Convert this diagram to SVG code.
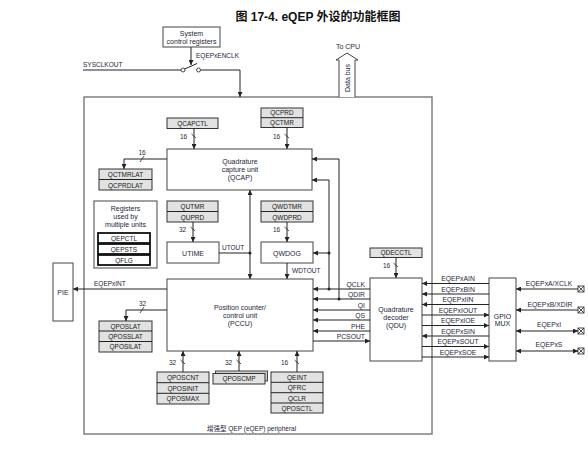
<svg xmlns="http://www.w3.org/2000/svg" width="588" height="453" viewBox="0 0 588 453">
  <style>
    text { font-family: "Liberation Sans", "Noto Sans CJK SC", sans-serif; fill: #1e1e3c; }
    .t { font-size: 7px; text-anchor: middle; }
    .r { font-size: 6.5px; text-anchor: middle; fill: #1a1a1a; }
    .s { font-size: 6.5px; }
    .e { font-size: 6.8px; text-anchor: end; }
    .m { font-size: 6.8px; text-anchor: middle; }
    .title { font-size: 12px; font-weight: bold; text-anchor: middle; fill: #111; }
    .box { fill: #fff; stroke: #444; stroke-width: 1; }
    .reg { fill: #e2e2e2; stroke: #333; stroke-width: 1; }
    .regb { fill: #cfcfcf; stroke: #444; stroke-width: 1; }
    .thick { fill: #fff; stroke: #111; stroke-width: 1.8; }
    .outer { fill: none; stroke: #808080; stroke-width: 1.5; }
    .w { fill: none; stroke: #222; stroke-width: 1; }
    .a { fill: none; stroke: #222; stroke-width: 1; marker-end: url(#ah); }
    .aa { fill: none; stroke: #222; stroke-width: 1; marker-start: url(#ah); marker-end: url(#ah); }
    .tick { stroke: #222; stroke-width: 0.8; }
    .dot { fill: #222; }
  </style>
  <defs>
    <marker id="ah" viewBox="0 0 6 6" refX="6" refY="3" markerWidth="5.5" markerHeight="5" markerUnits="userSpaceOnUse" orient="auto-start-reverse">
      <path d="M0,0 L6,3 L0,6 z" fill="#222"/>
    </marker>
  </defs>

  <text class="title" x="318" y="21">图 17-4. eQEP 外设的功能框图</text>

  <!-- enclosing peripheral frame -->
  <rect class="outer" x="84" y="97" width="348" height="337"/>
  <text class="s" x="207" y="431">增强型 QEP (eQEP) peripheral</text>

  <!-- system control and clock enable -->
  <g id="sysctrl">
    <rect class="box" x="163" y="27" width="57" height="20"/>
    <text class="t" x="191.5" y="35.5">System</text>
    <text class="t" x="191.5" y="44">control registers</text>
  </g>
  <g id="clkswitch">
    <text class="s" x="83" y="67">SYSCLKOUT</text>
    <text class="s" x="196" y="58">EQEPxENCLK</text>
    <circle cx="183" cy="70" r="2" fill="#fff" stroke="#222" stroke-width="0.8"/>
    <circle cx="198.5" cy="70" r="2" fill="#fff" stroke="#222" stroke-width="0.8"/>
  </g>

  <!-- data bus to CPU -->
  <g id="databus">
    <path d="M339,97 V60 H336 L347,53 L358,60 H355 V97" fill="#fff" stroke="#444" stroke-width="1"/>
    <text class="t" x="348" y="49">To CPU</text>
    <text class="t" transform="translate(350,78) rotate(-90)">Data bus</text>
  </g>

  <!-- capture unit -->
  <g id="qcapctl">
    <rect class="reg" x="167" y="118" width="51" height="10.5"/>
    <text class="r" x="192.5" y="125.8">QCAPCTL</text>
  </g>
  <g id="qcprd">
    <rect class="reg" x="261" y="108" width="42" height="19.5"/>
    <line class="w" x1="261" y1="117.7" x2="303" y2="117.7"/>
    <text class="r" x="282" y="115.3">QCPRD</text>
    <text class="r" x="282" y="125">QCTMR</text>
  </g>
  <g id="qcap">
    <rect class="box" x="167" y="149" width="145" height="41"/>
    <text class="t" x="240" y="164">Quadrature</text>
    <text class="t" x="240" y="172">capture unit</text>
    <text class="t" x="240" y="180">(QCAP)</text>
  </g>
  <g id="qctmrlat">
    <rect class="reg" x="99" y="169" width="53" height="21"/>
    <line class="w" x1="99" y1="179.5" x2="152" y2="179.5"/>
    <text class="r" x="125.5" y="177">QCTMRLAT</text>
    <text class="r" x="125.5" y="187.5">QCPRDLAT</text>
  </g>

  <!-- shared registers -->
  <g id="shared">
    <rect class="box" x="94" y="201" width="63" height="67" stroke="#555"/>
    <text class="t" x="125.5" y="211">Registers</text>
    <text class="t" x="125.5" y="219">used by</text>
    <text class="t" x="125.5" y="227">multiple units</text>
    <rect class="thick" x="98" y="233" width="52" height="10"/>
    <text class="r" x="124" y="240.5">QEPCTL</text>
    <rect class="thick" x="98" y="244" width="52" height="10"/>
    <text class="r" x="124" y="251.5">QEPSTS</text>
    <rect class="thick" x="98" y="255" width="52" height="10"/>
    <text class="r" x="124" y="262.5">QFLG</text>
  </g>

  <!-- unit timer -->
  <g id="qutmr">
    <rect class="reg" x="167" y="201" width="51" height="21"/>
    <line class="w" x1="167" y1="211.5" x2="218" y2="211.5"/>
    <text class="r" x="192.5" y="209">QUTMR</text>
    <text class="r" x="192.5" y="219.5">QUPRD</text>
  </g>
  <g id="utime">
    <rect class="box" x="167" y="242" width="52" height="21"/>
    <text class="t" x="193" y="255.5">UTIME</text>
  </g>

  <!-- watchdog -->
  <g id="qwdtmr">
    <rect class="reg" x="261" y="201" width="52" height="21"/>
    <line class="w" x1="261" y1="211.5" x2="313" y2="211.5"/>
    <text class="r" x="287" y="209">QWDTMR</text>
    <text class="r" x="287" y="219.5">QWDPRD</text>
  </g>
  <g id="qwdog">
    <rect class="box" x="261" y="242" width="52" height="21"/>
    <text class="t" x="287" y="255.5">QWDOG</text>
  </g>

  <!-- position counter -->
  <g id="pccu">
    <rect class="box" x="167" y="279" width="146" height="72"/>
    <text class="t" x="240" y="310">Position counter/</text>
    <text class="t" x="240" y="318">control unit</text>
    <text class="t" x="240" y="326">(PCCU)</text>
  </g>
  <g id="qposlat">
    <rect class="reg" x="99" y="321" width="53" height="31"/>
    <line class="w" x1="99" y1="331" x2="152" y2="331"/>
    <line class="w" x1="99" y1="341.5" x2="152" y2="341.5"/>
    <text class="r" x="125.5" y="328.5">QPOSLAT</text>
    <text class="r" x="125.5" y="338.8">QPOSSLAT</text>
    <text class="r" x="125.5" y="349.3">QPOSILAT</text>
  </g>
  <g id="qposcnt">
    <rect class="reg" x="157" y="372" width="52" height="32"/>
    <line class="w" x1="157" y1="382.7" x2="209" y2="382.7"/>
    <line class="w" x1="157" y1="393.3" x2="209" y2="393.3"/>
    <text class="r" x="183" y="380">QPOSCNT</text>
    <text class="r" x="183" y="390.6">QPOSINIT</text>
    <text class="r" x="183" y="401.2">QPOSMAX</text>
  </g>
  <g id="qposcmp">
    <rect class="regb" x="215.5" y="371" width="52" height="10"/>
    <rect class="reg" x="213" y="373.5" width="52" height="10.5"/>
    <text class="r" x="239" y="381.3">QPOSCMP</text>
  </g>
  <g id="qeint">
    <rect class="reg" x="271" y="372" width="52" height="41"/>
    <line class="w" x1="271" y1="382.3" x2="323" y2="382.3"/>
    <line class="w" x1="271" y1="392.7" x2="323" y2="392.7"/>
    <line class="w" x1="271" y1="403" x2="323" y2="403"/>
    <text class="r" x="297" y="379.8">QEINT</text>
    <text class="r" x="297" y="390.1">QFRC</text>
    <text class="r" x="297" y="400.5">QCLR</text>
    <text class="r" x="297" y="410.8">QPOSCTL</text>
  </g>

  <!-- decoder -->
  <g id="qdecctl">
    <rect class="reg" x="370" y="248" width="52" height="9.5"/>
    <text class="r" x="396" y="255">QDECCTL</text>
  </g>
  <g id="qdu">
    <rect class="box" x="370" y="278" width="52" height="83"/>
    <text class="t" x="396" y="312">Quadrature</text>
    <text class="t" x="396" y="320">decoder</text>
    <text class="t" x="396" y="328">(QDU)</text>
  </g>
  <g id="gpiomux">
    <rect class="box" x="489" y="278" width="27" height="83"/>
    <text class="t" x="502.5" y="318.5">GPIO</text>
    <text class="t" x="502.5" y="326">MUX</text>
  </g>
  <g id="pie">
    <rect class="box" x="53" y="263" width="20" height="58"/>
    <text class="t" x="63" y="294.5">PIE</text>
  </g>

  <!-- external pins -->
  <g id="pins" fill="#fff" stroke="#222" stroke-width="0.8">
    <rect x="578" y="286" width="6" height="6"/>
    <path d="M578,286 L584,292 M584,286 L578,292"/>
    <rect x="578" y="307" width="6" height="6"/>
    <path d="M578,307 L584,313 M584,307 L578,313"/>
    <rect x="578" y="328" width="6" height="6"/>
    <path d="M578,328 L584,334 M584,328 L578,334"/>
    <rect x="578" y="348" width="6" height="6"/>
    <path d="M578,348 L584,354 M584,348 L578,354"/>
  </g>

  <!-- connectors -->
  <g id="connectors">
    <!-- clock enable path -->
    <path class="w" d="M83,70 H181"/>
    <path class="w" d="M184.7,69 L197,63.5"/>
    <path class="a" d="M191,47 V65"/>
    <path class="a" d="M200.5,70 H240 V97"/>

    <!-- register buses -->
    <path class="a" d="M194,128.5 V149"/>
    <path class="a" d="M287,127.5 V149"/>
    <path class="a" d="M167,159 H124 V169"/>
    <path class="a" d="M193,222 V242"/>
    <path class="a" d="M287,222 V242"/>
    <path class="a" d="M396,257.5 V278"/>
    <path class="a" d="M167,310 H126 V321"/>
    <path class="a" d="M183,372 V351"/>
    <path class="a" d="M239,371 V351"/>
    <path class="a" d="M297,372 V351"/>

    <!-- bus width ticks -->
    <line class="tick" x1="191.5" y1="134" x2="196" y2="138"/>
    <line class="tick" x1="284.5" y1="134" x2="289" y2="138"/>
    <line class="tick" x1="190.5" y1="227" x2="195" y2="231"/>
    <line class="tick" x1="284.5" y1="227" x2="289" y2="231"/>
    <line class="tick" x1="393.5" y1="263" x2="398" y2="267"/>
    <line class="tick" x1="180.5" y1="360" x2="185" y2="364"/>
    <line class="tick" x1="236.5" y1="360" x2="241" y2="364"/>
    <line class="tick" x1="294.5" y1="360" x2="299" y2="364"/>
    <line class="tick" x1="140" y1="162" x2="144" y2="156"/>
    <line class="tick" x1="140" y1="313" x2="144" y2="307"/>
    <text class="s" x="180" y="139">16</text>
    <text class="s" x="273" y="139">16</text>
    <text class="s" x="138.5" y="155">16</text>
    <text class="s" x="179" y="232">32</text>
    <text class="s" x="273" y="232">16</text>
    <text class="s" x="383" y="268">16</text>
    <text class="s" x="139" y="305.5">32</text>
    <text class="s" x="169" y="365">32</text>
    <text class="s" x="225" y="365">32</text>
    <text class="s" x="281" y="365">16</text>

    <!-- unit timer and watchdog outputs -->
    <path class="w" d="M219,253 H250"/>
    <path class="a" d="M250,253 V190"/>
    <path class="a" d="M250,253 V279"/>
    <circle class="dot" cx="250" cy="253" r="1.5"/>
    <text class="s" x="222" y="250">UTOUT</text>
    <path class="a" d="M287,263 V279"/>
    <text class="s" x="292" y="273">WDTOUT</text>

    <!-- interrupt -->
    <path class="a" d="M167,289 H73"/>
    <text class="s" x="94" y="286">EQEPxINT</text>

    <!-- decoder to position counter -->
    <path class="a" d="M370,289 H313"/>
    <path class="a" d="M329,289 V180 H312"/>
    <path class="a" d="M329,253 H313"/>
    <circle class="dot" cx="329" cy="289" r="1.5"/>
    <circle class="dot" cx="329" cy="253" r="1.5"/>
    <path class="a" d="M370,299 H313"/>
    <path class="a" d="M339,299 V159 H312"/>
    <circle class="dot" cx="339" cy="299" r="1.5"/>
    <path class="a" d="M370,310 H313"/>
    <path class="a" d="M370,320 H313"/>
    <path class="a" d="M370,331 H313"/>
    <path class="a" d="M313,341 H370"/>
    <text class="e" x="365" y="287">QCLK</text>
    <text class="e" x="365" y="297">QDIR</text>
    <text class="e" x="365" y="308">QI</text>
    <text class="e" x="365" y="318">QS</text>
    <text class="e" x="365" y="329">PHE</text>
    <text class="e" x="365" y="339">PCSOUT</text>

    <!-- decoder to GPIO mux -->
    <path class="a" d="M489,283.5 H422"/>
    <path class="a" d="M489,294 H422"/>
    <path class="a" d="M489,304.5 H422"/>
    <path class="a" d="M422,315 H489"/>
    <path class="a" d="M422,325.5 H489"/>
    <path class="a" d="M489,336 H422"/>
    <path class="a" d="M422,346.5 H489"/>
    <path class="a" d="M422,357 H489"/>
    <text class="m" x="458" y="281">EQEPxAIN</text>
    <text class="m" x="458" y="291.5">EQEPxBIN</text>
    <text class="m" x="458" y="302">EQEPxIIN</text>
    <text class="m" x="458" y="312.5">EQEPxIOUT</text>
    <text class="m" x="458" y="323">EQEPxIOE</text>
    <text class="m" x="458" y="333.5">EQEPxSIN</text>
    <text class="m" x="458" y="344">EQEPxSOUT</text>
    <text class="m" x="458" y="354.5">EQEPxSOE</text>

    <!-- GPIO mux to pins -->
    <path class="a" d="M578,289 H516"/>
    <path class="a" d="M578,310 H516"/>
    <path class="aa" d="M516,331 H578"/>
    <path class="aa" d="M516,351 H578"/>
    <text class="m" x="549" y="285.5">EQEPxA/XCLK</text>
    <text class="m" x="550" y="306.5">EQEPxB/XDIR</text>
    <text class="m" x="549" y="327">EQEPxI</text>
    <text class="m" x="549" y="347">EQEPxS</text>
  </g>
</svg>
